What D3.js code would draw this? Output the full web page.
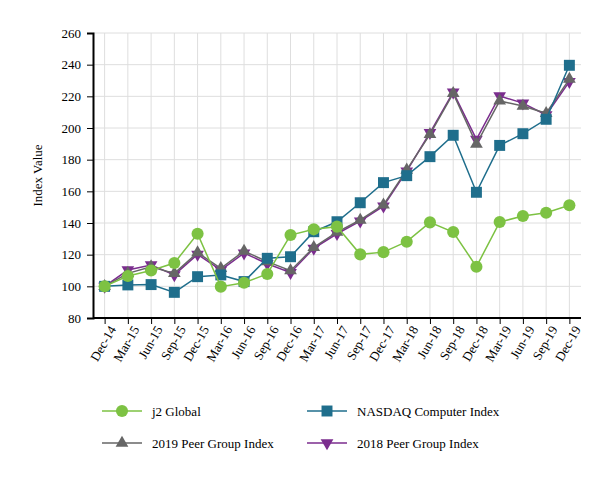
<!DOCTYPE html>
<html>
<head>
<meta charset="utf-8">
<script src="https://cdn.jsdelivr.net/npm/d3@7"></script>
<style>
  body { margin: 0; background: #fff; }
  svg text { font-family: "Liberation Serif", "Times New Roman", serif; }
</style>
</head>
<body>
<svg id="chart"></svg>
<script>
const quarters = ["Dec-14", "Mar-15", "Jun-15", "Sep-15", "Dec-15", "Mar-16", "Jun-16", "Sep-16", "Dec-16",
  "Mar-17", "Jun-17", "Sep-17", "Dec-17", "Mar-18", "Jun-18", "Sep-18", "Dec-18", "Mar-19", "Jun-19", "Sep-19", "Dec-19"];

const j2Global = [100, 106.5, 110, 114.7, 133.2, 99.8, 102.3, 107.8, 132.4, 136, 137.7, 120.2, 121.6,
  128.2, 140.4, 134.3, 112.4, 140.6, 144.4, 146.5, 151.2];
const nasdaq = [100, 100.9, 101.1, 96.2, 106.1, 107.2, 103, 117.7, 118.7, 134.5, 140.8, 152.8, 165.5,
  169.9, 181.9, 195.4, 159.4, 189, 196.4, 205.5, 239.6];
const peer2019 = [100, 108.2, 112.4, 108.2, 121.3, 111.4, 122.3, 115.6, 109.9, 124.6, 134.3, 141.9, 151.4,
  173.5, 196, 221.9, 189.9, 217.1, 213.9, 209.3, 230.9];
const peer2018 = [100, 110.3, 113.5, 107.2, 120.2, 110.2, 121, 114.3, 108.6, 124, 133.2, 141.2, 150.6,
  172.8, 197, 222.6, 192.8, 220.2, 215.7, 208.2, 229.3];

const yTicks = [80, 100, 120, 140, 160, 180, 200, 220, 240, 260];

const series = [
  { name: "2018 Peer Group Index", values: peer2018, color: "#7b2d8e", symbol: d3.symbolTriangle, size: 70, flip: true },
  { name: "2019 Peer Group Index", values: peer2019, color: "#666666", symbol: d3.symbolTriangle, size: 70, flip: false },
  { name: "NASDAQ Computer Index", values: nasdaq, color: "#1f6e8c", symbol: d3.symbolSquare, size: 120, flip: false },
  { name: "j2 Global", values: j2Global, color: "#7dc243", symbol: d3.symbolCircle, size: 115, flip: false }
];

const width = 614, height = 480;
const margin = { top: 33, right: 33, bottom: 162, left: 93 };
const serif = "'Liberation Serif', 'Times New Roman', serif";

const svg = d3.select("#chart").attr("width", width).attr("height", height);

const x = d3.scalePoint()
  .domain(quarters)
  .range([margin.left, width - margin.right])
  .padding(0.5);

const y = d3.scaleLinear()
  .domain([80, 260])
  .range([height - margin.bottom, margin.top]);

// grid
svg.append("g")
  .selectAll("line")
  .data(yTicks)
  .join("line")
  .attr("x1", margin.left).attr("x2", width - margin.right)
  .attr("y1", d => y(d)).attr("y2", d => y(d))
  .attr("stroke", "#dedede").attr("stroke-width", 1);

svg.append("g")
  .selectAll("line")
  .data(quarters)
  .join("line")
  .attr("x1", d => x(d)).attr("x2", d => x(d))
  .attr("y1", margin.top).attr("y2", height - margin.bottom)
  .attr("stroke", "#dedede").attr("stroke-width", 1);

// axes
const yAxis = svg.append("g")
  .attr("transform", `translate(${margin.left},0)`)
  .call(d3.axisLeft(y).tickValues(yTicks).tickSize(6).tickPadding(6))
  .attr("font-family", serif).attr("font-size", 13);
yAxis.select(".domain").attr("stroke", "#000").attr("stroke-width", 2);
yAxis.selectAll(".tick line").attr("stroke", "#000");
yAxis.selectAll("text").attr("fill", "#000");

const xAxis = svg.append("g")
  .attr("transform", `translate(0,${height - margin.bottom})`)
  .call(d3.axisBottom(x).tickSize(6).tickSizeOuter(0))
  .attr("font-family", serif).attr("font-size", 13);
xAxis.select(".domain").attr("stroke", "#000").attr("stroke-width", 2)
  .attr("d", `M${margin.left},0H${width - margin.right}`);
xAxis.selectAll(".tick line").attr("stroke", "#000");
xAxis.selectAll("text")
  .attr("fill", "#000")
  .attr("text-anchor", "end")
  .attr("dx", "-0.3em").attr("dy", "0.5em")
  .attr("transform", "rotate(-60)");

svg.append("text")
  .attr("transform", `translate(42,${(margin.top + height - margin.bottom) / 2}) rotate(-90)`)
  .attr("text-anchor", "middle")
  .attr("font-size", 13)
  .text("Index Value");

// lines and markers
const line = d3.line()
  .x((d, i) => x(quarters[i]))
  .y(d => y(d));

series.forEach(s => {
  const g = svg.append("g");
  g.append("path")
    .attr("d", line(s.values))
    .attr("fill", "none")
    .attr("stroke", s.color)
    .attr("stroke-width", 1.5);
  const sym = d3.symbol().type(s.symbol).size(s.size);
  g.selectAll("path.m")
    .data(s.values)
    .join("path")
    .attr("class", "m")
    .attr("d", sym)
    .attr("fill", s.color)
    .attr("transform", (d, i) => `translate(${x(quarters[i])},${y(d)})${s.flip ? " rotate(180)" : ""}`);
});

// legend
const legendItems = [
  { s: series[3], lx: 102, ly: 411 },
  { s: series[2], lx: 307, ly: 411 },
  { s: series[1], lx: 102, ly: 443 },
  { s: series[0], lx: 307, ly: 443 }
];
const lg = svg.append("g");
legendItems.forEach(item => {
  const g = lg.append("g").attr("transform", `translate(${item.lx},${item.ly})`);
  g.append("line").attr("x1", 0).attr("x2", 40).attr("y1", 0).attr("y2", 0)
    .attr("stroke", item.s.color).attr("stroke-width", 1.5);
  g.append("path")
    .attr("d", d3.symbol().type(item.s.symbol).size(item.s.size))
    .attr("fill", item.s.color)
    .attr("transform", `translate(20,0)${item.s.flip ? " rotate(180)" : ""}`);
  g.append("text")
    .attr("x", 50).attr("y", 0).attr("dy", "0.35em")
    .attr("font-size", 13)
    .text(item.s.name);
});
</script>
</body>
</html>
